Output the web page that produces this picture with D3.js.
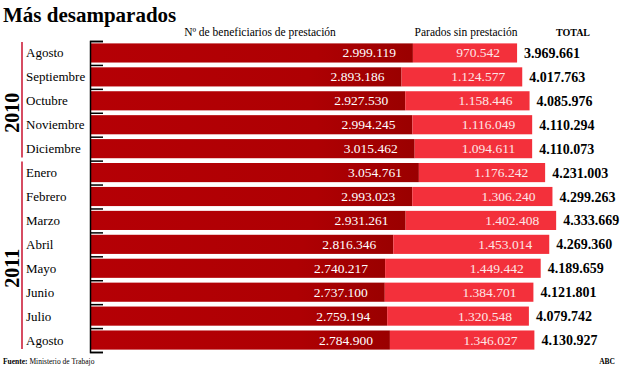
<!DOCTYPE html>
<html lang="es">
    <head>
        <meta charset="utf-8">
        <title>Más desamparados</title>
        <script src="https://d3js.org/d3.v7.min.js"></script>
        <style type="text/css">
        body { margin: 0; background: #fff; }
        text { font-family: "Liberation Serif", serif; }
        .title { font-size: 21px; font-weight: bold; }
        .head { font-size: 11.5px; }
        .month { font-size: 13px; }
        .year { font-size: 20px; font-weight: bold; }
        .val { font-size: 13.5px; fill: #fff; }
        .total { font-size: 14px; font-weight: bold; fill: #000; }
        .source { font-size: 7.5px; }
        </style>
    </head>
    <body>
    <div id="vis"></div>

    <script type="text/javascript">

        // data
        const months = ["Agosto", "Septiembre", "Octubre", "Noviembre", "Diciembre",
                        "Enero", "Febrero", "Marzo", "Abril", "Mayo", "Junio", "Julio", "Agosto"];
        const years = [2010, 2010, 2010, 2010, 2010, 2011, 2011, 2011, 2011, 2011, 2011, 2011, 2011];
        const beneficiarios = [2999119, 2893186, 2927530, 2994245, 3015462, 3054761, 2993023,
                               2931261, 2816346, 2740217, 2737100, 2759194, 2784900];
        const sinPrestacion = [970542, 1124577, 1158446, 1116049, 1094611, 1176242, 1306240,
                               1402408, 1453014, 1449442, 1384701, 1320548, 1346027];
        const totals = [3969661, 4017763, 4085976, 4110294, 4110073, 4231003, 4299263,
                        4333669, 4269360, 4189659, 4121801, 4079742, 4130927];

        const width = 621;
        const height = 375;
        const lightRed = "#f3303b";

        const fmt = d3.formatLocale({decimal: ",", thousands: ".", grouping: [3], currency: ["", "€"]})
                      .format(",d");

        const rows = months.map((m, i) => ({
            i: i, month: m, year: years[i],
            ben: beneficiarios[i], sin: sinPrestacion[i], total: totals[i]
        }));

        const xScale = d3.scaleLinear()
                         .domain([0, 4500000])
                         .range([91, 574]);

        const yScale = d3.scaleBand()
                         .domain(d3.range(rows.length))
                         .range([41, 352])
                         .paddingInner(0.2)
                         .paddingOuter(0.1);

        // boundaries between rows, for the tick marks
        const yEdge = d3.scaleLinear()
                        .domain([0, rows.length])
                        .range([41, 352]);

        const svg = d3.select("#vis")
                      .append("svg")
                      .attr("width", width)
                      .attr("height", height);

        // gradient on the dark bars (a bit darker near the label)
        const grad = svg.append("defs").append("linearGradient")
                        .attr("id", "darkgrad");
        grad.append("stop").attr("offset", "0%").attr("stop-color", "#b50005");
        grad.append("stop").attr("offset", "70%").attr("stop-color", "#ae0003");
        grad.append("stop").attr("offset", "100%").attr("stop-color", "#9a0000");

        svg.append("text")
           .attr("class", "title")
           .attr("x", 3)
           .attr("y", 22)
           .text("Más desamparados");

        svg.append("text").attr("class", "head")
           .attr("x", 260).attr("y", 36).attr("text-anchor", "middle")
           .text("Nº de beneficiarios de prestación");
        svg.append("text").attr("class", "head")
           .attr("x", 466).attr("y", 36).attr("text-anchor", "middle")
           .text("Parados sin prestación");
        svg.append("text").attr("class", "head")
           .attr("x", 573).attr("y", 36).attr("text-anchor", "middle")
           .style("font-weight", "bold").style("font-size", "10px")
           .text("TOTAL");

        // bars
        const row = svg.selectAll(".row")
                       .data(rows)
                       .enter()
                       .append("g")
                       .attr("class", "row");

        row.append("rect")
           .attr("x", xScale(0))
           .attr("y", d => yScale(d.i))
           .attr("width", d => xScale(d.ben) - xScale(0))
           .attr("height", yScale.bandwidth())
           .attr("fill", "url(#darkgrad)");

        row.append("rect")
           .attr("x", d => xScale(d.ben))
           .attr("y", d => yScale(d.i))
           .attr("width", d => xScale(d.total) - xScale(d.ben))
           .attr("height", yScale.bandwidth())
           .attr("fill", lightRed);

        row.append("text")
           .attr("class", "val")
           .attr("x", d => xScale(d.ben) - 17)
           .attr("y", d => yScale(d.i) + yScale.bandwidth() / 2 + 4.5)
           .attr("text-anchor", "end")
           .text(d => fmt(d.ben));

        row.append("text")
           .attr("class", "val")
           .attr("x", d => xScale(d.total) - 17)
           .attr("y", d => yScale(d.i) + yScale.bandwidth() / 2 + 4.5)
           .attr("text-anchor", "end")
           .style("fill", "#fde6e6")
           .text(d => fmt(d.sin));

        row.append("text")
           .attr("class", "total")
           .attr("x", d => xScale(d.total) + 7)
           .attr("y", d => yScale(d.i) + yScale.bandwidth() / 2 + 5)
           .text(d => fmt(d.total));

        // month labels
        row.append("text")
           .attr("class", "month")
           .attr("x", 26)
           .attr("y", d => yScale(d.i) + yScale.bandwidth() / 2 + 4.5)
           .text(d => d.month);

        // left axis with ticks between rows
        const leftAxis = d3.axisRight(yEdge)
                           .tickValues(d3.range(rows.length + 1))
                           .tickSize(13)
                           .tickFormat("");

        svg.append("g")
           .attr("transform", "translate(90,0)")
           .call(leftAxis)
           .call(g => g.selectAll("line, path").attr("stroke", "#000").attr("stroke-width", 1.5));

        // year groups
        const groups = d3.groups(rows, d => d.year).map(([y, r]) => ({
            year: y, first: r[0].i, last: r[r.length - 1].i
        }));

        svg.selectAll(".yearline")
           .data(groups)
           .enter()
           .append("line")
           .attr("x1", 22).attr("x2", 22)
           .attr("y1", d => yEdge(d.first) + 1)
           .attr("y2", d => yEdge(d.last + 1) - 3)
           .attr("stroke", "#c8102e")
           .attr("stroke-width", 1.5);

        svg.selectAll(".year")
           .data(groups)
           .enter()
           .append("text")
           .attr("class", "year")
           .attr("text-anchor", "middle")
           .attr("transform", d => "translate(19," + ((yEdge(d.first) + yEdge(d.last + 1)) / 2 + 12) + ") rotate(-90)")
           .text(d => d.year);

        // footer
        const src = svg.append("text")
                       .attr("class", "source")
                       .attr("x", 3)
                       .attr("y", 364);
        src.append("tspan").style("font-weight", "bold").text("Fuente: ");
        src.append("tspan").text("Ministerio de Trabajo");

        svg.append("text")
           .attr("class", "source")
           .attr("x", 615)
           .attr("y", 364)
           .attr("text-anchor", "end")
           .style("font-weight", "bold")
           .text("ABC");

    </script>
    </body>
</html>
